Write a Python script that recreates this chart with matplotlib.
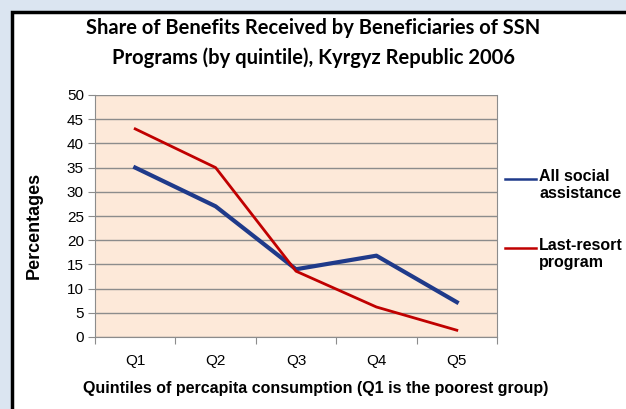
import matplotlib.pyplot as plt
import matplotlib.patches as mpatches
from matplotlib.lines import Line2D

quintiles = ['Q1', 'Q2', 'Q3', 'Q4', 'Q5']
all_social = [35, 27, 14, 16.8, 7.2]
last_resort = [43, 35, 13.6, 6.2, 1.4]
series_names = ['All social\nassistance', 'Last-resort\nprogram']

blue = '#1f3a8a'
red = '#c00000'

fig = plt.figure(figsize=(6.26, 4.09), dpi=100)
fig.patch.set_facecolor('#dbe5f1')

# white chart area with black frame (runs off right and bottom edges)
frame = mpatches.Rectangle((12 / 626, -0.05), 1.0, 1 - 12 / 409 + 0.05,
                           transform=fig.transFigure, facecolor='white',
                           edgecolor='black', linewidth=2.5, zorder=-10)
fig.add_artist(frame)

ax = fig.add_axes([95 / 626, 1 - 337 / 409, 402 / 626, 242 / 409])
ax.set_facecolor('#fde9d9')

x = range(len(quintiles))
ax.plot(x, all_social, color=blue, linewidth=3, solid_joinstyle='round')
ax.plot(x, last_resort, color=red, linewidth=2, solid_joinstyle='round')

ax.set_xlim(-0.5, 4.5)
ax.set_ylim(0, 50)
ax.set_yticks(range(0, 51, 5))
ax.yaxis.grid(True, color='#8c8c8c', linewidth=1)
ax.set_axisbelow(True)

ax.set_xticks([i + 0.5 for i in range(-1, 5)], minor=False)
ax.set_xticklabels([])
ax.set_xticks(list(x), minor=True)
ax.set_xticklabels(quintiles, minor=True)
ax.tick_params(axis='x', which='minor', length=0, pad=12)
ax.tick_params(axis='x', which='major', length=5, color='#8c8c8c', direction='out')
ax.tick_params(axis='y', length=5, color='#8c8c8c', direction='out', pad=3)

for lbl in ax.get_xticklabels(minor=True) + ax.get_yticklabels():
    lbl.set_fontfamily('Liberation Sans')
    lbl.set_fontsize(11)

ax.spines['top'].set_visible(False)
ax.spines['left'].set_color('#8c8c8c')
ax.spines['bottom'].set_color('#8c8c8c')
ax.spines['right'].set_color('#8c8c8c')

ax.set_ylabel('Percentages', fontfamily='Liberation Sans', fontweight='bold',
              fontsize=13)
ax.yaxis.set_label_coords(-52 / 402, 0.46)
ax.set_xlabel('Quintiles of percapita consumption (Q1 is the poorest group)',
              fontfamily='Liberation Sans', fontweight='bold', fontsize=11.5)
ax.xaxis.set_label_coords(0.55, -44 / 242)

fig.text(0.5, 1 - 43 / 409, 'Share of Benefits Received by Beneficiaries of SSN\nPrograms (by quintile), Kyrgyz Republic 2006',
         ha='center', va='center', fontsize=14.5, fontweight='bold',
         fontfamily='Lato', linespacing=1.6)

# legend drawn by hand: line aligned with first text line
for name, color, ypix in zip(series_names, [blue, red], [179, 248]):
    yf = 1 - ypix / 409
    fig.add_artist(Line2D([505 / 626, 536 / 626], [yf, yf], color=color,
                          linewidth=1.8, transform=fig.transFigure))
    fig.text(539 / 626, 1 - (ypix - 10) / 409, name, ha='left', va='top',
             fontfamily='Liberation Sans', fontweight='bold', fontsize=11.5,
             linespacing=1.15)

fig.savefig('out.png', dpi=100)
